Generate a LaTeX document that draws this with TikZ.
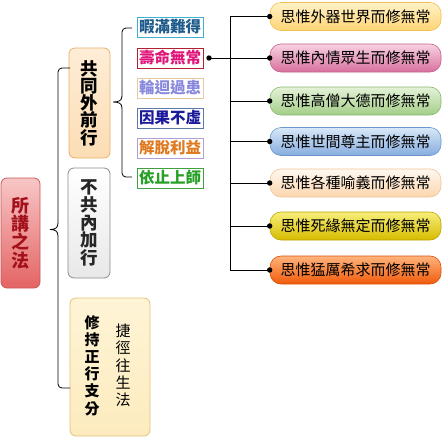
\documentclass[tikz,border=0pt]{standalone}
\usepackage{fontspec}
\newfontfamily\cjk{Noto Sans CJK TC}
\definecolor{rootT}{HTML}{F8C6C6}\definecolor{rootB}{HTML}{E46464}\definecolor{rootD}{HTML}{C85858}\definecolor{rootX}{HTML}{A3121C}
\definecolor{gongT}{HTML}{FEEDD6}\definecolor{gongB}{HTML}{FCDDB4}\definecolor{gongD}{HTML}{E6B26A}
\definecolor{buD}{HTML}{8C8C8C}
\definecolor{xiuT}{HTML}{FEF4D6}\definecolor{xiuB}{HTML}{FCEBBE}\definecolor{xiuD}{HTML}{E2C27A}
\definecolor{t1x}{HTML}{1F5C8C}\definecolor{t1d}{HTML}{40B0D0}
\definecolor{t2x}{HTML}{E0157A}\definecolor{t2d}{HTML}{B02030}
\definecolor{t3x}{HTML}{8888DD}\definecolor{t3d}{HTML}{E8C8A0}
\definecolor{t4x}{HTML}{1A1A9A}\definecolor{t4d}{HTML}{5A7AAA}
\definecolor{t5x}{HTML}{E07A20}\definecolor{t5d}{HTML}{B0A0D8}
\definecolor{t6x}{HTML}{28A028}\definecolor{t6d}{HTML}{40A040}
\definecolor{i1T}{HTML}{FFF2C8}\definecolor{i1B}{HTML}{FFD474}\definecolor{i1D}{HTML}{F0C050}
\definecolor{i2T}{HTML}{F8D2E2}\definecolor{i2B}{HTML}{D8709E}\definecolor{i2D}{HTML}{C4608C}
\definecolor{i3T}{HTML}{E4F2D8}\definecolor{i3B}{HTML}{A4CE88}\definecolor{i3D}{HTML}{88B870}
\definecolor{i4T}{HTML}{D8E8F8}\definecolor{i4B}{HTML}{86ACDE}\definecolor{i4D}{HTML}{6A96CC}
\definecolor{i5T}{HTML}{FFF8F0}\definecolor{i5B}{HTML}{FCD6AE}\definecolor{i5D}{HTML}{EEC496}
\definecolor{i6T}{HTML}{F6EE7A}\definecolor{i6B}{HTML}{D8BC00}\definecolor{i6D}{HTML}{BCA400}
\definecolor{i7T}{HTML}{FFB47C}\definecolor{i7B}{HTML}{F05A0A}\definecolor{i7D}{HTML}{D85008}
\begin{document}
\begin{tikzpicture}[x=1pt,y=-1pt,
  vbox/.style={draw, rounded corners=6pt, line width=0.8pt, inner sep=0pt, align=center},
  tag/.style={draw, line width=0.8pt, fill=white, minimum width=66pt, minimum height=20pt, inner sep=0pt,
    font=\cjk\bfseries\fontsize{15.5}{16}\selectfont},
  item/.style={draw, rounded corners=11pt, line width=0.6pt, minimum width=171pt, minimum height=28pt,
    inner sep=0pt, font=\cjk\fontsize{15}{16}\selectfont, text=black},
  link/.style={line width=0.8pt, black},
  dot/.style={fill=black}]
\useasboundingbox (0,0) rectangle (443,439);
% left column
\node[vbox, top color=rootT, bottom color=rootB, draw=rootD, text=rootX, minimum width=39pt, minimum height=110pt,
  font=\cjk\bfseries\fontsize{18}{18.2}\selectfont] (root) at (20.5,233) {所\\講\\之\\法};
\node[vbox, top color=gongT, bottom color=gongB, draw=gongD, minimum width=41pt, minimum height=110pt,
  font=\cjk\bfseries\fontsize{17.5}{17.3}\selectfont] (gong) at (89.5,103) {共\\同\\外\\前\\行};
\node[vbox, top color=white, bottom color=black!9, draw=buD, minimum width=42pt, minimum height=110pt,
  font=\cjk\bfseries\fontsize{17.5}{17.6}\selectfont, text=black!85] (bu) at (89,223) {不\\共\\內\\加\\行};
\node[vbox, top color=xiuT, bottom color=xiuB, draw=xiuD, minimum width=80pt, minimum height=138pt,
  font=\cjk\fontsize{15}{15.3}\selectfont] (xiu) at (110,367)
  {{\bfseries\begin{tabular}[c]{@{}c@{}}修\\持\\正\\行\\支\\分\end{tabular}}\hspace{16pt}\begin{tabular}[c]{@{}c@{}}捷\\徑\\往\\生\\法\end{tabular}\hspace{5pt}};
% brace 1
\coordinate (b1t) at (70,68);
\coordinate (b1b) at (70,388);
\draw[link, rounded corners=4pt] (b1t) -- (58,68) -- (58,223);
\draw[link] (58,223) .. controls (58,228) and (55,229.5) .. (50,229.5) .. controls (55,229.5) and (58,231) .. (58,236);
\draw[link, rounded corners=4pt] (58,236) -- (58,388) -- (b1b);
% tags
\node[tag, draw=t1d, text=t1x] (a1) at (170,27) {暇滿難得};
\node[tag, draw=t2d, text=t2x] (a2) at (170,58) {壽命無常};
\node[tag, draw=t3d, text=t3x] (a3) at (170,88) {輪迴過患};
\node[tag, draw=t4d, text=t4x] (a4) at (170,118) {因果不虛};
\node[tag, draw=t5d, text=t5x] (a5) at (170,148) {解脫利益};
\node[tag, draw=t6d, text=t6x] (a6) at (170,178) {依止上師};
% brace 2
\draw[link, rounded corners=4pt] (132,28) -- (122,28) -- (122,96);
\draw[link] (122,96) .. controls (122,100.5) and (119,102) .. (113,102) .. controls (119,102) and (122,103.5) .. (122,108);
\draw[link, rounded corners=4pt] (122,108) -- (122,177) -- (132,177);
% items
\node[item, top color=i1T, bottom color=i1B, draw=i1D] (i1) at (355.5,16.5) {思惟外器世界而修無常};
\node[item, top color=i2T, bottom color=i2B, draw=i2D] (i2) at (355.5,58) {思惟內情眾生而修無常};
\node[item, top color=i3T, bottom color=i3B, draw=i3D] (i3) at (355.5,101) {思惟高僧大德而修無常};
\node[item, top color=i4T, bottom color=i4B, draw=i4D] (i4) at (355.5,141.5) {思惟世間尊主而修無常};
\node[item, top color=i5T, bottom color=i5B, draw=i5D] (i5) at (355.5,183) {思惟各種喻義而修無常};
\node[item, top color=i6T, bottom color=i6B, draw=i6D] (i6) at (355.5,226) {思惟死緣無定而修無常};
\node[item, top color=i7T, bottom color=i7B, draw=i7D] (i7) at (355.5,270) {思惟猛厲希求而修無常};
% connectors
\coordinate (sdot) at (209,58);
\coordinate (tt) at (230,16.5);
\coordinate (tb) at (230,270);
\draw[link] (sdot) -- (i2.west);
\draw[link] (i1.west) -- (tt) -- (tb) -- (i7.west);
\foreach \n in {i3,i4,i5,i6} \draw[link] (\n.west) -- (\n.west -| tt);
\fill[dot] (sdot) circle (2.7pt);
\foreach \n in {i1,i2,i3,i4,i5,i6,i7} \fill[dot] (\n.west) circle (2.7pt);
\end{tikzpicture}
\end{document}
